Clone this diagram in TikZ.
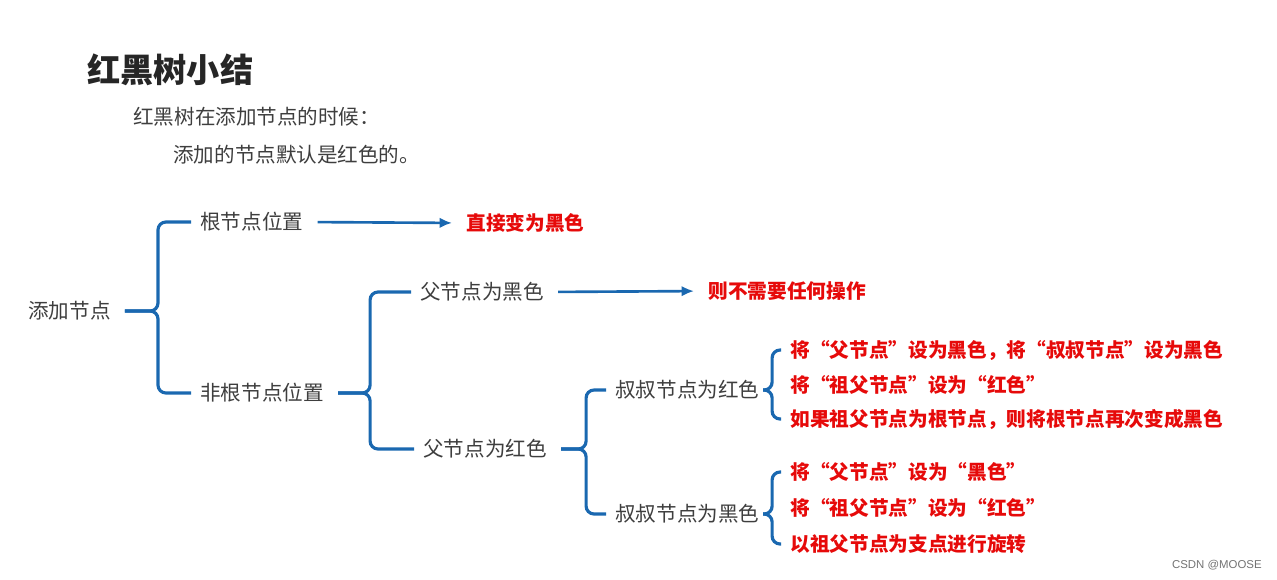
\documentclass[tikz,border=0pt]{standalone}
\usepackage{fontspec}
\setmainfont{Liberation Sans}
\newfontfamily\cjk{Noto Sans CJK SC}
\usetikzlibrary{arrows.meta}

\definecolor{linkblue}{RGB}{26,104,176}
\definecolor{alertred}{RGB}{230,10,10}
\definecolor{textgray}{RGB}{62,62,62}
\definecolor{titlegray}{RGB}{38,38,38}

\begin{document}
\begin{tikzpicture}[
    x=0.02cm, y=-0.02cm,
    leaf/.style={anchor=west, inner sep=0pt, text=textgray,
                 font=\cjk\fontsize{11.7}{14}\selectfont},
    action/.style={anchor=west, inner sep=0pt, text=alertred,
                   font=\cjk\bfseries\fontsize{11.2}{14}\selectfont},
    brace/.style={draw=linkblue, line width=1.8pt, rounded corners=4.5pt},
    arrow/.style={-{Latex[length=7pt,width=6pt]}, draw=linkblue,
                  line width=1.5pt, shorten <=8pt, shorten >=8pt},
]
\useasboundingbox (0,0) rectangle (1277,579);

% Heading
\node[anchor=west, inner sep=0pt, text=titlegray,
      font=\cjk\bfseries\fontsize{18.9}{22}\selectfont] (title) at (87,70) {红黑树小结};
\node[leaf] (intro) at (133,117) {红黑树在添加节点的时候：};
\node[leaf] (default) at (173,155) {添加的节点默认是红色的。};

% Cases
\node[leaf] (add) at (28,311) {添加节点};
\node[leaf] (rootpos) at (200,222) {根节点位置};
\node[leaf] (nonroot) at (200,393) {非根节点位置};
\node[leaf] (pblack) at (420,292) {父节点为黑色};
\node[leaf] (pred) at (423,449) {父节点为红色};
\node[leaf] (ured) at (615,390) {叔叔节点为红色};
\node[leaf] (ublack) at (615,514) {叔叔节点为黑色};

% Actions
\node[action] (toblack) at (466,223) {直接变为黑色};
\node[action] (noop) at (708,291) {则不需要任何操作};
\node[action] (ur1) at (790,350) {将“父节点”设为黑色，将“叔叔节点”设为黑色};
\node[action] (ur2) at (790,385) {将“祖父节点”设为“红色”};
\node[action] (ur3) at (790,419) {如果祖父节点为根节点，则将根节点再次变成黑色};
\node[action] (ub1) at (790,472) {将“父节点”设为“黑色”};
\node[action] (ub2) at (790,508) {将“祖父节点”设为“红色”};
\node[action] (ub3) at (790,544) {以祖父节点为支点进行旋转};

% Braces
\foreach \from/\to/\gap/\dx in {add/rootpos/8pt/33, add/nonroot/8pt/33,
    nonroot/pblack/8pt/32, nonroot/pred/8pt/32,
    pred/ured/8pt/25, pred/ublack/8pt/25,
    ured/ur1/2pt/9, ured/ur3/2pt/9,
    ublack/ub1/2pt/9, ublack/ub3/2pt/9}
  \draw[brace] ([xshift=\gap]\from.east) -- ++(\dx,0) |- ([xshift=-5pt]\to.west);

% Arrows
\draw[arrow] (rootpos.east) -- (toblack.west);
\draw[arrow] (pblack.east) -- (noop.west);

\node[anchor=east, inner sep=0pt, text=black!55,
      font=\fontsize{6.5}{8}\selectfont] (mark) at (1262,565) {CSDN @MOOSE};
\end{tikzpicture}
\end{document}
